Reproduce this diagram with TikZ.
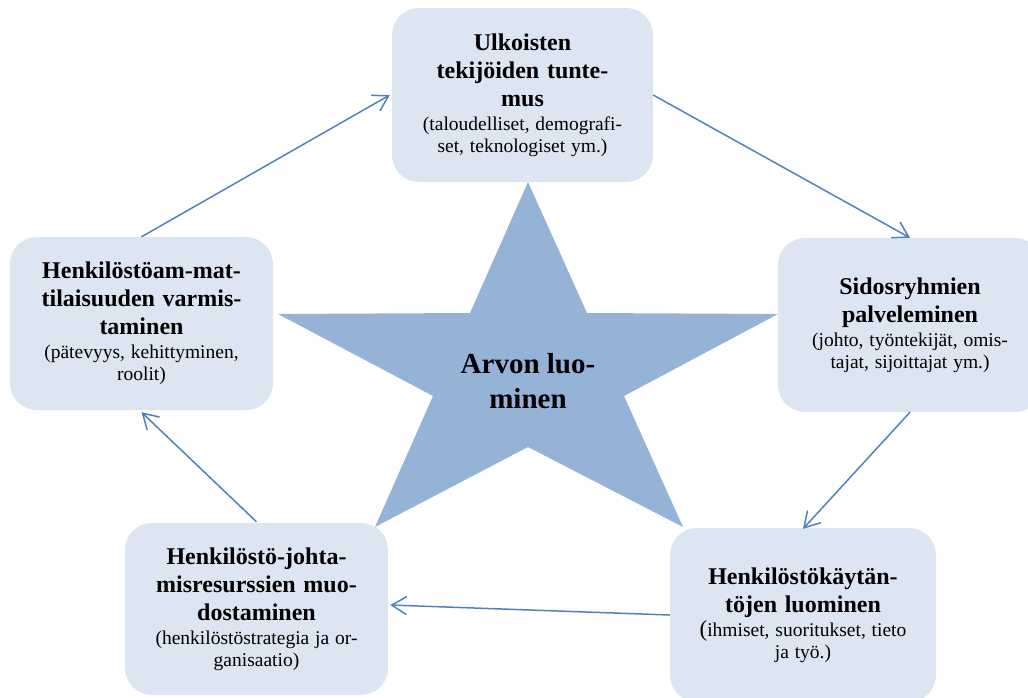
\documentclass[tikz,border=0pt]{standalone}
\usepackage{fontspec}
\setmainfont{Liberation Serif}
\usetikzlibrary{arrows.meta,calc}
\definecolor{boxfill}{HTML}{DCE5F2}
\definecolor{starfill}{HTML}{95B3D7}
\definecolor{arrowcol}{HTML}{4F81BD}
\newcommand{\ttl}{\fontsize{24}{28}\selectfont\bfseries\spaceskip=0.32em\relax}
\newcommand{\sub}{\par\vspace*{2pt}\fontsize{19.5}{22}\selectfont\mdseries\spaceskip=0.3em\relax}
\tikzset{
  card/.style={fill=boxfill, draw=none, rounded corners=27pt, inner sep=0pt,
    align=center, text width=#1, minimum height=174pt},
  flow/.style={draw=arrowcol, line width=1.5pt,
    -{Straight Barb[length=15pt,width=18pt,line width=1.5pt]}},
}
\begin{document}
\begin{tikzpicture}[x=1pt,y=-1pt]
\useasboundingbox (0,0) rectangle (1028,697);
% star
\fill[starfill] (528,182) -- (587,313) -- (778,314) -- (624,396) -- (683,527)
  -- (528,447) -- (375,527) -- (433,396) -- (278,314) -- (470,313) -- cycle;
\node[align=center, font=\fontsize{29}{35}\selectfont\bfseries] (star) at (528,381)
  {Arvon luo-\\minen};
% boxes
\node[card=261pt, minimum width=261pt] (T) at (522.5,95)
  {{\ttl Ulkoisten\\tekijöiden tunte-\\mus\par}{\sub (taloudelliset, demografi-\\set, teknologiset ym.)\par}};
\node[card=264pt, minimum width=264pt] (R) at (910,325)
  {{\ttl Sidosryhmien\\palveleminen\par}{\sub (johto, työntekijät, omis-\\tajat, sijoittajat ym.)\par}};
\node[card=266pt, minimum width=266pt] (BR) at (803,615)
  {{\ttl Henkilöstökäytän-\\töjen luominen\par}{\sub {\fontsize{23}{22}\selectfont(}ihmiset, suoritukset, tieto\\ja työ.)\par}};
\node[card=263pt, minimum width=263pt, minimum height=172pt] (BL) at (256.5,609)
  {{\ttl Henkilöstö-johta-\\misresurssien muo-\\dostaminen\par}{\sub (henkilöstöstrategia ja or-\\ganisaatio)\par}};
\node[card=263pt, minimum width=263pt, minimum height=173pt] (L) at (141.5,323.5)
  {{\ttl Henkilöstöam-mat-\\tilaisuuden varmis-\\taminen\par}{\sub (pätevyys, kehittyminen,\\roolit)\par}};
% connectors
\draw[flow] (L.north) -- ([xshift=-2pt]T.west);
\draw[flow] (T.east) -- (R.north);
\draw[flow] (R.south) -- ([yshift=-1pt]BR.north);
\draw[flow] (BR.west) -- ([xshift=2pt,yshift=4pt]BL.east);
\draw[flow] ([yshift=1pt]BL.north) -- ([yshift=-2pt]L.south);
\end{tikzpicture}
\end{document}
